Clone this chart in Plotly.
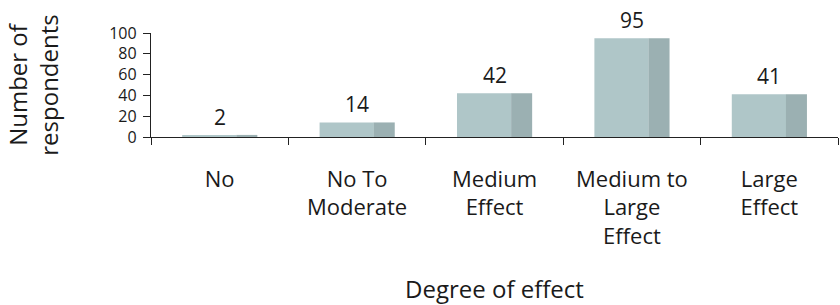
import plotly.graph_objects as go

categories = ["No", "No To<br>Moderate", "Medium<br>Effect", "Medium to<br>Large<br>Effect", "Large<br>Effect"]
values = [2, 14, 42, 95, 41]
y_ticks = [0, 20, 40, 60, 80, 100]

FONT = "Open Sans"
LIGHT = "#afc6c8"
DARK = "#9bb0b2"
TXT = "#1a1a1a"

fig = go.Figure()
fig.add_trace(go.Bar(x=categories, y=values, width=0.395, offset=-0.273,
                     marker=dict(color=LIGHT, line=dict(width=0)), hoverinfo="skip"))
fig.add_trace(go.Bar(x=categories, y=values, width=0.153, offset=0.121,
                     marker=dict(color=DARK, line=dict(width=0)), hoverinfo="skip"))

for c, v in zip(categories, values):
    fig.add_annotation(x=c, y=v, text=str(v), showarrow=False, yanchor="middle", yshift=18,
                       font=dict(family=FONT, size=21, color=TXT))

fig.update_layout(
    width=840, height=305,
    margin=dict(l=151, r=2, t=33, b=168),
    paper_bgcolor="white", plot_bgcolor="white",
    barmode="overlay", showlegend=False,
    font=dict(family=FONT, color=TXT),
)
fig.update_xaxes(
    type="category", tickson="boundaries", ticks="outside", ticklen=7, tickcolor="#222",
    showline=True, linecolor="#222", linewidth=1.3, showgrid=False,
    tickfont=dict(family=FONT, size=22), ticklabelstandoff=22,
    title=dict(text="Degree of effect", font=dict(family=FONT, size=24), standoff=34),
    automargin=False,
)
fig.update_yaxes(
    range=[0, 100], tickvals=y_ticks, ticks="outside", ticklen=7, tickcolor="#222",
    showline=True, linecolor="#222", linewidth=1.3, showgrid=False, zeroline=False,
    tickfont=dict(family=FONT, size=16), ticklabelstandoff=3,
    title=dict(text="Number of<br>respondents", font=dict(family=FONT, size=24), standoff=43),
    automargin=False,
)
fig.write_html("out.html", config={"displayModeBar": False},
               post_script="document.body.style.margin='0';document.body.style.overflow='hidden';")
